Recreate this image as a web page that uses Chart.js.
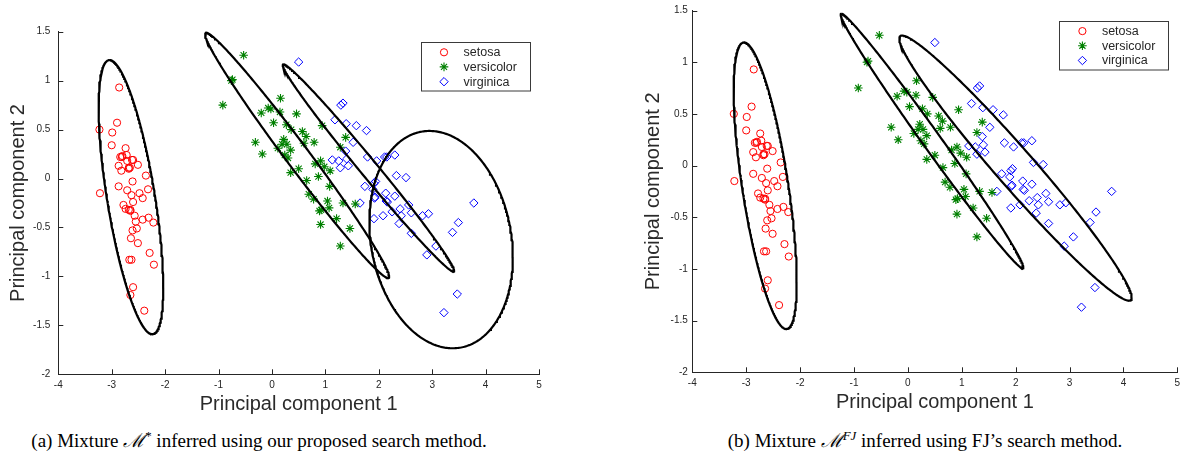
<!DOCTYPE html>
<html>
<head>
<meta charset="utf-8">
<script src="https://cdn.jsdelivr.net/npm/chart.js@4.4.1/dist/chart.umd.min.js"></script>
<style>
  html, body { margin:0; padding:0; background:#fff; width:1190px; height:459px; overflow:hidden; }
  #c1 { position:absolute; left:0; top:0; width:600px; height:420px; }
  #c2 { position:absolute; left:634px; top:0; width:556px; height:420px; }
  .cap { position:absolute; top:429px; font-family:"Liberation Serif","Times New Roman",Times,serif; font-size:19px; line-height:22px; color:#000; white-space:nowrap; transform:translateX(-50%); }
  .cap sup { font-size:0.68em; line-height:0; vertical-align:0.55em; }
  .cap .scr { font-family:"DejaVu Serif","Liberation Serif",serif; font-style:italic; }
</style>
</head>
<body>
<canvas id="c1" width="600" height="420"></canvas>
<canvas id="c2" width="556" height="420"></canvas>
<div class="cap" style="left:259px;">(a) Mixture <span class="scr">ℳ</span><sup>*</sup> inferred using our proposed search method.</div>
<div class="cap" style="left:925px;">(b) Mixture <span class="scr">ℳ</span><sup><i>FJ</i></sup> inferred using FJ’s search method.</div>
<script>
// ---------- data ----------
const classNames = ['setosa', 'versicolor', 'virginica'];
const xTickValues = [-4, -3, -2, -1, 0, 1, 2, 3, 4, 5];
const xTickLabels = ['-4', '-3', '-2', '-1', '0', '1', '2', '3', '4', '5'];
const yTickValues = [-2, -1.5, -1, -0.5, 0, 0.5, 1, 1.5];
const yTickLabels = ['-2', '-1.5', '-1', '-0.5', '0', '0.5', '1', '1.5'];

const setosaX = [-2.86,-3.23,-2.90,-2.99,-3.00,-2.74,-2.84,-2.81,-2.72,-2.62,-2.71,-2.87,-2.68,-2.66,-2.82,-2.51,-2.60,-2.36,-2.32,-2.61,-2.87,-2.71,-2.63,-3.22,-2.48,-2.42,-2.60,-2.78,-2.74,-2.68,-2.65,-2.57,-2.31,-2.42,-2.22,-2.55,-2.61,-2.53,-2.64,-2.51,-2.29,-2.67,-2.63,-2.21,-2.60,-2.65,-2.39,-2.80,-2.68,-2.65];
const setosaY = [0.93,0.50,0.57,0.47,0.34,0.31,0.22,0.22,0.24,0.19,0.18,0.13,0.10,0.11,0.08,0.14,0.19,0.03,-0.11,-0.03,-0.08,-0.12,-0.17,-0.15,-0.15,-0.20,-0.24,-0.27,-0.31,-0.32,-0.32,-0.38,-0.40,-0.42,-0.45,-0.44,-0.53,-0.51,-0.61,-0.66,-0.76,-0.83,-0.83,-0.88,-1.11,-1.19,-1.35,0.23,0.11,-0.33];

const versicolorX = [-0.53,-0.74,-0.76,-0.92,0.16,-0.20,-0.07,-0.02,0.15,0.46,0.03,0.94,0.27,0.36,0.57,0.64,0.22,-0.31,0.19,0.28,0.79,0.60,-0.18,0.11,0.35,0.24,0.30,1.28,1.38,0.91,0.81,0.98,1.09,0.50,0.35,0.87,0.65,1.08,0.69,0.78,1.04,0.89,0.92,1.07,1.33,1.56,1.21,0.91,1.46,1.28];
const versicolorY = [1.26,1.01,1.00,0.75,0.82,0.67,0.72,0.71,0.68,0.66,0.57,0.54,0.55,0.50,0.48,0.43,0.40,0.37,0.35,0.35,0.37,0.36,0.25,0.31,0.29,0.24,0.21,0.32,0.42,0.18,0.15,0.12,0.08,0.10,0.06,0.02,-0.02,-0.08,-0.16,-0.21,-0.23,-0.33,-0.32,-0.30,-0.25,-0.26,-0.41,-0.47,-0.51,-0.69];

const virginicaX = [0.50,1.33,1.29,1.18,1.39,1.58,1.77,1.52,1.38,1.25,1.28,1.43,1.40,1.79,1.96,2.11,2.15,2.30,2.33,2.51,1.74,1.91,1.94,1.89,1.93,2.13,2.30,1.65,2.14,2.40,2.56,2.25,2.42,2.61,1.91,2.08,2.38,2.82,2.93,2.61,3.07,2.90,3.38,3.49,3.78,3.47,3.22,1.13,1.92,2.16];
const virginicaY = [1.19,0.77,0.75,0.60,0.56,0.54,0.49,0.37,0.28,0.18,0.11,0.13,0.20,0.22,0.18,0.22,0.22,0.24,0.03,0.01,-0.08,-0.05,-0.03,-0.11,-0.19,-0.15,-0.18,-0.25,-0.23,-0.31,-0.27,-0.34,-0.38,-0.35,-0.41,-0.38,-0.46,-0.38,-0.36,-0.56,-0.69,-0.78,-0.55,-0.45,-0.25,-1.18,-1.37,0.19,-0.20,-0.24];

const oursCX  = [-2.64, 0.470, 1.806, 3.167];
const oursCY  = [-0.19, 0.237, 0.108, -0.624];
const oursSXX = [0.366, 2.969, 2.573, 1.804];
const oursSXY = [-0.56, -2.132, -1.684, -0.24];
const oursSYY = [1.96, 1.570, 1.121, 1.232];

const fjCX  = [-2.648, 0.447, 1.996];
const fjCY  = [-0.195, 0.2375, -0.0245];
const fjSXX = [0.342, 2.870, 4.648];
const fjSXY = [-0.545, -2.071, -2.699];
const fjSYY = [1.921, 1.517, 1.645];

// ---------- helpers ----------
const AXIS = '#262626';
Chart.defaults.font.family = '"Liberation Sans", Arial, Helvetica, sans-serif';
Chart.defaults.color = AXIS;

function pts(xs, ys) { return xs.map((x, i) => ({ x: x, y: ys[i] })); }

function ellipseData(cx, cy, sxx, sxy, syy) {
  const l11 = Math.sqrt(sxx), l21 = sxy / l11, l22 = Math.sqrt(syy - l21 * l21);
  const out = [];
  const n = 360;
  for (let i = 0; i <= n; i++) {
    const t = 2 * Math.PI * i / n, u = Math.cos(t), v = Math.sin(t);
    out.push({ x: cx + l11 * u, y: cy + l21 * u + l22 * v });
  }
  return out;
}

function ellipseSets(CX, CY, SXX, SXY, SYY) {
  return CX.map((cx, i) => ({
    type: 'line', label: 'ellipse' + i, data: ellipseData(cx, CY[i], SXX[i], SXY[i], SYY[i]),
    borderColor: '#000', borderWidth: 2.2, pointRadius: 0, fill: false, tension: 0,
    order: 0, clip: false, isEllipse: true
  }));
}

function pointSets() {
  return [
    { label: classNames[0], data: pts(setosaX, setosaY), pointStyle: 'circle', pointRadius: 3.6,
      pointBorderWidth: 1, pointBorderColor: '#ff0000', pointBackgroundColor: 'rgba(0,0,0,0)', borderColor: '#ff0000', order: 1 },
    { label: classNames[1], data: pts(versicolorX, versicolorY), pointStyle: 'star', pointRadius: 4.3,
      pointBorderWidth: 1.1, pointBorderColor: '#008000', pointBackgroundColor: 'rgba(0,0,0,0)', borderColor: '#008000', order: 1 },
    { label: classNames[2], data: pts(virginicaX, virginicaY), pointStyle: 'rectRot', pointRadius: 4.2,
      pointBorderWidth: 1, pointBorderColor: '#0000ff', pointBackgroundColor: 'rgba(0,0,0,0)', borderColor: '#0000ff', order: 1 }
  ];
}

const inwardTicks = {
  id: 'inwardTicks',
  afterDraw(chart) {
    const { ctx, chartArea: a, scales: { x, y } } = chart;
    ctx.save();
    ctx.strokeStyle = AXIS; ctx.lineWidth = 1;
    x.ticks.forEach(t => {
      const px = Math.round(x.getPixelForValue(t.value)) + 0.5;
      ctx.beginPath(); ctx.moveTo(px, a.bottom); ctx.lineTo(px, a.bottom - 5); ctx.stroke();
    });
    y.ticks.forEach(t => {
      const py = Math.round(y.getPixelForValue(t.value)) + 0.5;
      ctx.beginPath(); ctx.moveTo(a.left, py); ctx.lineTo(a.left + 5, py); ctx.stroke();
    });
    ctx.restore();
  }
};

const boxLegend = {
  id: 'boxLegend',
  afterDraw(chart) {
    const { ctx, chartArea: a } = chart;
    const w = 109, h = 48.5;
    const left = a.right - 9 - w, top = a.top + 10.4;
    ctx.save();
    ctx.fillStyle = '#fff';
    ctx.fillRect(left, top, w, h);
    ctx.strokeStyle = '#3a3a3a'; ctx.lineWidth = 1;
    ctx.strokeRect(Math.round(left) + 0.5, Math.round(top) + 0.5, w, h);
    const rows = [10.2, 24.8, 39.6];
    const sets = chart.data.datasets.filter(d => !d.isEllipse);
    ctx.font = '12.5px "Liberation Sans", Arial, sans-serif';
    ctx.textBaseline = 'middle'; ctx.textAlign = 'left';
    sets.forEach((d, i) => {
      const yy = top + rows[i];
      ctx.strokeStyle = d.pointBorderColor; ctx.fillStyle = 'rgba(0,0,0,0)';
      ctx.lineWidth = d.pointBorderWidth;
      Chart.helpers.drawPoint(ctx, { pointStyle: d.pointStyle, radius: d.pointRadius, borderWidth: d.pointBorderWidth, rotation: 0 }, left + 23, yy);
      ctx.fillStyle = AXIS;
      ctx.fillText(d.label, left + 42.5, yy + 0.5);
    });
    ctx.restore();
  }
};

function makeChart(id, datasets, pad, yTickPad, yTitlePad) {
  return new Chart(document.getElementById(id), {
    type: 'scatter',
    data: { datasets: datasets },
    options: {
      responsive: false, animation: false, events: [],
      layout: { padding: pad },
      plugins: { legend: { display: false }, tooltip: { enabled: false } },
      scales: {
        x: {
          type: 'linear', min: -4, max: 5,
          afterBuildTicks: s => { s.ticks = xTickValues.map(v => ({ value: v })); },
          afterFit: s => { s.height = 45; },
          ticks: { callback: (v, i) => xTickLabels[i], font: { size: 10 }, color: AXIS, padding: 5, maxRotation: 0, autoSkip: false },
          grid: { display: false, drawTicks: false },
          border: { display: true, color: AXIS, width: 1 },
          title: { display: true, text: 'Principal component 1', font: { size: 20 }, color: '#2a2a2a', padding: { top: 0, bottom: 2.5 } }
        },
        y: {
          type: 'linear', min: -2, max: 1.5,
          afterBuildTicks: s => { s.ticks = yTickValues.map(v => ({ value: v })); },
          afterFit: s => { s.width = 58.3; },
          ticks: { callback: (v, i) => yTickLabels[i], font: { size: 10 }, color: AXIS, padding: yTickPad, autoSkip: false },
          grid: { display: false, drawTicks: false },
          border: { display: true, color: AXIS, width: 1 },
          title: { display: true, text: 'Principal component 2', font: { size: 20 }, color: '#2a2a2a', padding: { top: yTitlePad, bottom: 0 } }
        }
      }
    },
    plugins: [inwardTicks, boxLegend]
  });
}

makeChart('c1',
  pointSets().concat(ellipseSets(oursCX, oursCY, oursSXX, oursSXY, oursSYY)),
  { left: 0, top: 31.7, right: 61, bottom: 0.7 }, 8, 6);

makeChart('c2',
  pointSets().concat(ellipseSets(fjCX, fjCY, fjSXX, fjSXY, fjSYY)),
  { left: 0, top: 10.3, right: 12.6, bottom: 2.7 }, 4.5, 7);
</script>
</body>
</html>
